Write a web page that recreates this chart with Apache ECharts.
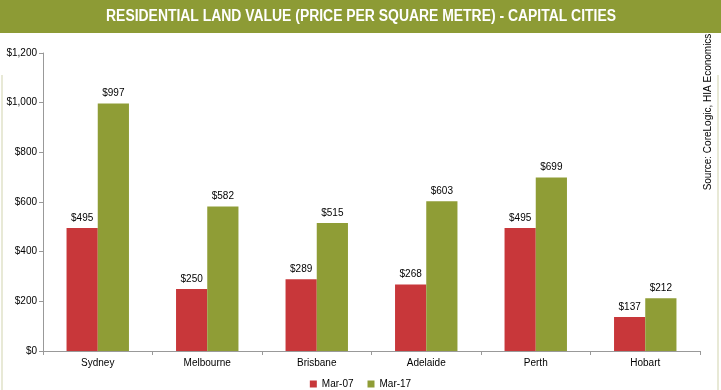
<!DOCTYPE html>
<html><head><meta charset="utf-8">
<script src="https://cdn.jsdelivr.net/npm/echarts@6/dist/echarts.min.js"></script>
<style>html,body{margin:0;padding:0;background:#fff}#c{width:721px;height:390px}</style>
</head><body><div id="c"></div>
<script>
const categories = ['Sydney','Melbourne','Brisbane','Adelaide','Perth','Hobart'];
const mar07 = [495,250,289,268,495,137];
const mar17 = [997,582,515,603,699,212];
const seriesNames = ['Mar-07','Mar-17'];
const yTicks = [0,200,400,600,800,1000,1200];

const chart = echarts.init(document.getElementById('c'));
const fmt = v => '$' + v.toLocaleString('en-US');
const lbl = {show:true, position:'top', distance:5, color:'#000', fontSize:10, fontFamily:'Arial, Liberation Sans', formatter:p=>fmt(p.value)};
chart.setOption({
  animation:false,
  graphic:[
    {type:'rect', shape:{x:0,y:0,width:721,height:33}, style:{fill:'#8d9b35'}},
    {type:'text', x:361, y:17, scaleX:0.87, style:{text:'RESIDENTIAL LAND VALUE (PRICE PER SQUARE METRE) - CAPITAL CITIES', fill:'#fff', font:'bold 16px "Liberation Sans Narrow", "Arial Narrow", Arial', align:'center', verticalAlign:'middle'}},
    {type:'line', shape:{x1:2,y1:75,x2:2,y2:390}, style:{stroke:'#e8e9d6', lineWidth:2}},
    {type:'line', shape:{x1:718,y1:75,x2:718,y2:390}, style:{stroke:'#e8e9d6', lineWidth:2}},
    {type:'text', x:708, y:112, rotation:Math.PI/2, style:{text:'Source: CoreLogic, HIA Economics', fill:'#000', font:'10px Arial, "Liberation Sans"', align:'center', verticalAlign:'middle'}}
  ],
  grid:{left:43, right:21, top:53, bottom:39, containLabel:false},
  legend:{top:374, left:'center', itemWidth:7, itemHeight:7, itemGap:14, icon:'rect', textStyle:{fontSize:10, color:'#000', fontFamily:'Arial, Liberation Sans'}, data:seriesNames},
  xAxis:{type:'category', data:categories, axisLine:{lineStyle:{color:'#999'}}, axisTick:{show:true, alignWithLabel:false, length:4, lineStyle:{color:'#999'}}, axisLabel:{color:'#000', fontSize:10, fontFamily:'Arial, Liberation Sans', margin:7}},
  yAxis:{type:'value', min:0, max:1200, interval:200, splitLine:{show:false}, axisLine:{show:true, lineStyle:{color:'#999'}}, axisTick:{show:true, length:4, lineStyle:{color:'#999'}}, axisLabel:{color:'#000', fontSize:10, fontFamily:'Arial, Liberation Sans', margin:6, formatter:v=>fmt(v)}},
  series:[
    {name:seriesNames[0], type:'bar', data:mar07, barGap:'0%', barCategoryGap:'43%', itemStyle:{color:'#c8373a'}, label:lbl},
    {name:seriesNames[1], type:'bar', data:mar17, itemStyle:{color:'#8f9d36'}, label:lbl}
  ]
});
</script></body></html>
